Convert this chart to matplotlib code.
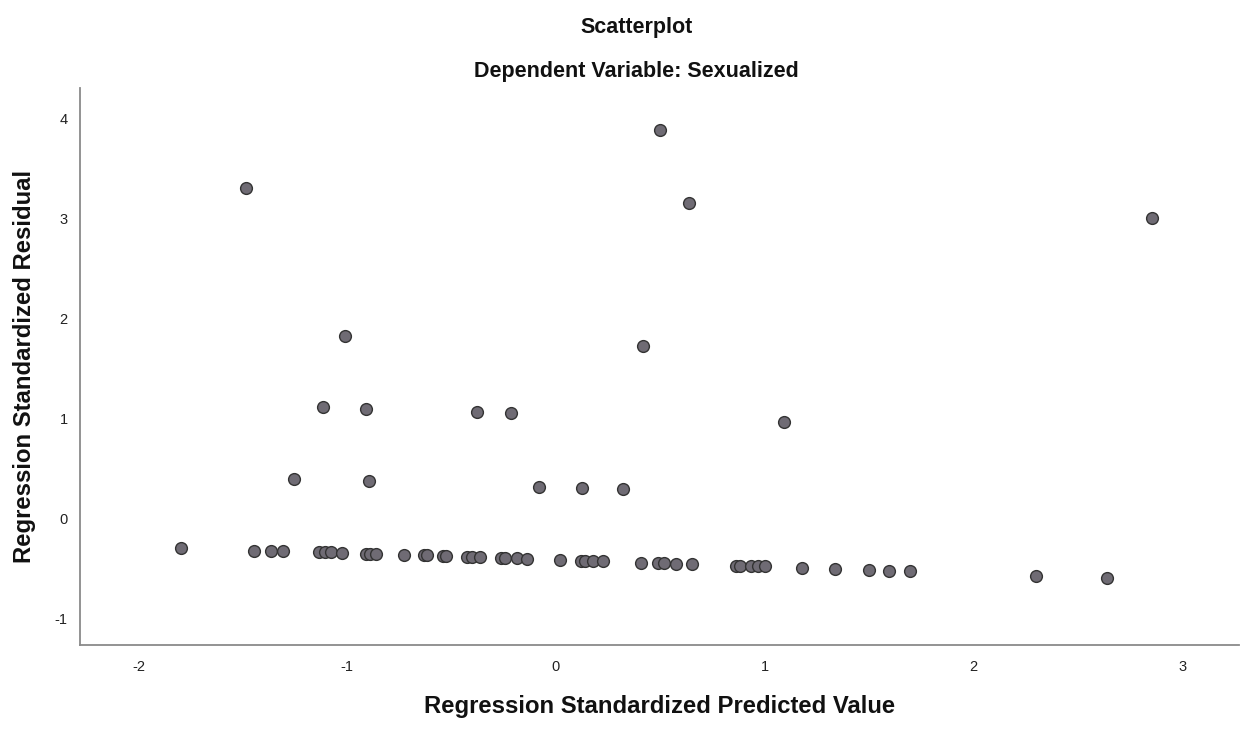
import numpy as np
import matplotlib
matplotlib.use("Agg")
from matplotlib import pyplot as plt

# Predicted (x) and residual (y) values
pred_outliers = [-1.487, 0.499, 0.638, 2.854, -1.012, 0.417, -1.118, -0.911,
                 -0.379, -0.216, 1.094, -1.257, -0.897, -0.082, 0.125, 0.321]
resid_outliers = [3.30, 3.88, 3.15, 3.00, 1.82, 1.72, 1.11, 1.09,
                  1.06, 1.05, 0.96, 0.39, 0.37, 0.31, 0.30, 0.29]

pred_band = [-1.795, -1.445, -1.367, -1.308, -1.137, -1.105, -1.076, -1.023,
             -0.908, -0.892, -0.860, -0.730, -0.633, -0.620, -0.543, -0.529,
             -0.425, -0.401, -0.363, -0.265, -0.243, -0.186, -0.139, 0.019,
             0.118, 0.139, 0.179, 0.224, 0.409, 0.489, 0.519, 0.576, 0.651,
             0.862, 0.882, 0.935, 0.967, 1.002, 1.177, 1.337, 1.498, 1.597,
             1.696, 2.30, 2.64]
resid_band = [-0.30, -0.33, -0.33, -0.33, -0.34, -0.34, -0.34, -0.35,
              -0.36, -0.36, -0.36, -0.37, -0.37, -0.37, -0.38, -0.38,
              -0.39, -0.39, -0.39, -0.40, -0.40, -0.40, -0.41, -0.42,
              -0.43, -0.43, -0.43, -0.43, -0.45, -0.45, -0.45, -0.46, -0.46,
              -0.48, -0.48, -0.48, -0.48, -0.48, -0.50, -0.51, -0.52, -0.53,
              -0.53, -0.58, -0.60]

x = np.array(pred_outliers + pred_band)
y = np.array(resid_outliers + resid_band)

plt.rcParams['font.family'] = ['Liberation Sans', 'DejaVu Sans']
plt.rcParams['axes.unicode_minus'] = False

fig = plt.figure(figsize=(12.43, 7.29), dpi=100)
ax = fig.add_axes([0.0644, 0.115, 0.932, 0.764])

ax.scatter(x, y, s=72, c='#6f6b74', edgecolors='#333333', linewidths=1.0, zorder=3)

ax.set_xlim(-2.28, 3.27)
ax.set_ylim(-1.27, 4.3)
ax.set_xticks([-2, -1, 0, 1, 2, 3])
ax.set_yticks([-1, 0, 1, 2, 3, 4])
ax.tick_params(axis='x', length=0, pad=11, labelsize=10.5, colors='#222222')
ax.tick_params(axis='y', length=0, pad=9, labelsize=10.5, colors='#222222')

for side in ['top', 'right']:
    ax.spines[side].set_visible(False)
for side in ['left', 'bottom']:
    ax.spines[side].set_color('#8a8a8a')
    ax.spines[side].set_linewidth(1.3)

ax.set_xlabel('Regression Standardized Predicted Value', fontsize=17.2,
              fontweight='bold', color='#111111', labelpad=15)
ax.set_ylabel('Regression Standardized Residual', fontsize=17.2,
              fontweight='bold', color='#111111', labelpad=13)

fig.text(0.512, 0.962, 'Scatterplot', ha='center', va='center',
         fontsize=15.5, fontweight='bold', color='#111111')
fig.text(0.512, 0.902, 'Dependent Variable: Sexualized', ha='center', va='center',
         fontsize=15.5, fontweight='bold', color='#111111')

fig.savefig('out.png', dpi=100)
